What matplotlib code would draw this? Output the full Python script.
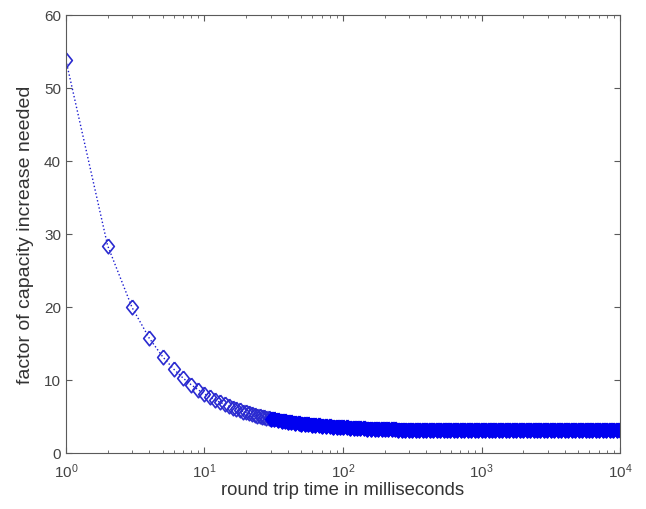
import matplotlib
matplotlib.use("Agg")
import matplotlib.pyplot as plt
import numpy as np
from matplotlib.ticker import LogLocator, NullFormatter

# round trip time (ms) and factor
rtt_ms = [1, 2, 3, 4, 5, 6, 7, 8, 9, 10, 11, 12, 13, 14, 15, 16, 17, 18, 19, 20,
          21, 22, 23, 24, 25, 26, 27, 28, 29, 30, 32, 34, 36, 38, 40, 42, 45, 48,
          50, 53, 56, 60, 63, 67, 71, 75, 80, 85, 90, 95, 100, 106, 112, 120, 126,
          133, 141, 150, 160, 170, 180, 190, 200, 212, 224, 237, 251, 266, 282, 300,
          316, 335, 355, 376, 398, 422, 447, 473, 501, 531, 562, 596, 631, 668, 708,
          750, 794, 841, 891, 944, 1000, 1059, 1122, 1189, 1259, 1334, 1413, 1496,
          1585, 1679, 1778, 1884, 1995, 2113, 2239, 2371, 2512, 2661, 2818, 2985,
          3162, 3350, 3548, 3758, 3981, 4217, 4467, 4732, 5012, 5309, 5623, 5957,
          6310, 6683, 7079, 7499, 7943, 8414, 8913, 9441, 10000]
factor = [53.80, 28.40, 19.93, 15.70, 13.16, 11.47, 10.26, 9.35, 8.64, 8.08, 7.62,
          7.23, 6.91, 6.63, 6.39, 6.18, 5.99, 5.82, 5.67, 5.54, 5.42, 5.31, 5.21,
          5.12, 5.03, 4.95, 4.88, 4.81, 4.75, 4.69, 4.59, 4.49, 4.41, 4.34, 4.27,
          4.21, 4.13, 4.06, 4.02, 3.96, 3.91, 3.85, 3.81, 3.76, 3.72, 3.68, 3.64,
          3.60, 3.56, 3.53, 3.51, 3.48, 3.45, 3.42, 3.40, 3.38, 3.36, 3.34, 3.32,
          3.30, 3.28, 3.27, 3.25, 3.24, 3.23, 3.21, 3.20, 3.19, 3.18, 3.17, 3.16,
          3.15, 3.15, 3.15, 3.15, 3.15, 3.15, 3.15, 3.15, 3.15, 3.15, 3.15, 3.15,
          3.15, 3.15, 3.15, 3.15, 3.15, 3.15, 3.15, 3.15, 3.15, 3.15, 3.15, 3.15,
          3.15, 3.15, 3.15, 3.15, 3.15, 3.15, 3.15, 3.15, 3.15, 3.15, 3.15, 3.15,
          3.15, 3.15, 3.15, 3.15, 3.15, 3.15, 3.15, 3.15, 3.15, 3.15, 3.15, 3.15,
          3.15, 3.15, 3.15, 3.15, 3.15, 3.15, 3.15, 3.15, 3.15, 3.15, 3.15, 3.15]

plt.rcParams['font.family'] = ['Liberation Sans', 'DejaVu Sans']
plt.rcParams['mathtext.fontset'] = 'custom'
plt.rcParams['mathtext.rm'] = 'Liberation Sans'
plt.rcParams['mathtext.it'] = 'Liberation Sans'

grey = '#5a5a5a'
# matlab style diamond: a bit taller than wide
diamond = [(0, 1), (0.8, 0), (0, -1), (-0.8, 0), (0, 1)]

fig = plt.figure(figsize=(6.46, 5.10), dpi=100)
ax = fig.add_axes([0.102, 0.110, 0.858, 0.859])

x = np.array(rtt_ms)
y = np.array(factor)
ax.plot(x, y, ':', color='#1a1ad0', lw=1.0)
ax.plot(x, y, ls='none', marker=diamond, mfc='none', mec='#2b2bd0',
        ms=10.5, mew=1.2)
# past ~30 ms the markers pile up into a solid band
dense = x >= 30
ax.plot(x[dense], y[dense], '-', color='#0000f0', lw=9.5,
        solid_capstyle='butt', solid_joinstyle='round')
ax.plot(x[dense], y[dense], ls='none', marker=diamond, color='#0000f0',
        mec='#0000f0', ms=10.5, mew=1.2)

ax.set_xscale('log')
ax.set_xlim(1, 1e4)
ax.set_ylim(0, 60)
ax.set_yticks(range(0, 61, 10))
ax.xaxis.set_minor_locator(LogLocator(base=10, subs=range(2, 10)))
ax.xaxis.set_minor_formatter(NullFormatter())

ax.tick_params(which='both', direction='in', top=True, right=True,
               colors=grey, labelcolor='#444444', labelsize=11)
ax.tick_params(which='major', length=4)
ax.tick_params(which='minor', length=2)
ax.tick_params(axis='x', pad=6)
for s in ax.spines.values():
    s.set_color(grey)

ax.set_xlabel('round trip time in milliseconds', fontsize=13.3, color='#333333', labelpad=1)
ax.set_ylabel('factor of capacity increase needed', fontsize=14, color='#333333', labelpad=7)

fig.savefig('out.png', dpi=100)
